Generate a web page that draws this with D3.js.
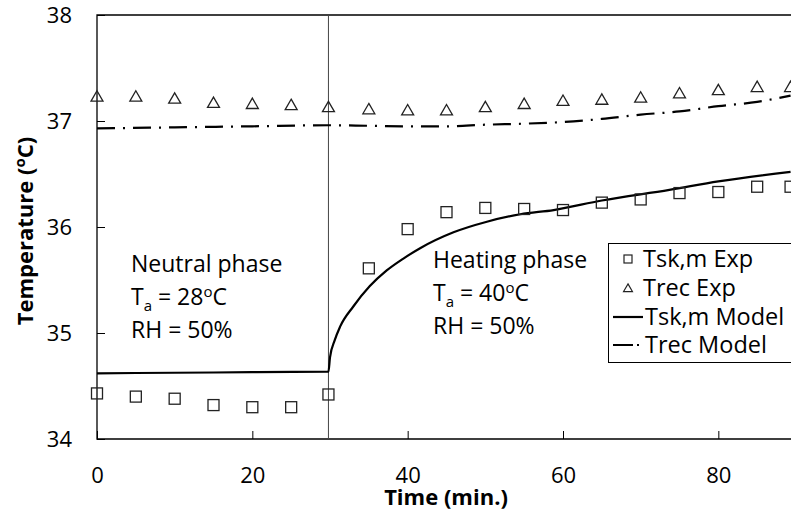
<!DOCTYPE html>
<html>
<head>
<meta charset="utf-8">
<script src="https://cdn.jsdelivr.net/npm/d3@7"></script>
<style>
  body { margin: 0; background: #fff; }
  text { font-family: "Open Sans", sans-serif; fill: #000; }
</style>
</head>
<body>
<div id="plot"></div>
<script>
// Width and height
const w = 791;
const h = 514;
const margin = {top: 15, right: -5, bottom: 75, left: 97};
const innerWidth = w - margin.left - margin.right;
const innerHeight = h - margin.top - margin.bottom;

// experimental points (time in min.)
const expTime = [0, 5, 10, 15, 20, 25, 29.8, 35, 40, 45, 50, 55, 60, 65, 70, 75, 80, 85, 89.3];
const tskExp = [34.43, 34.40, 34.38, 34.32, 34.30, 34.30, 34.42, 35.61, 35.98, 36.14, 36.18, 36.17,
  36.16, 36.23, 36.26, 36.32, 36.33, 36.38, 36.38];
const trecExp = [37.23, 37.23, 37.21, 37.17, 37.16, 37.15, 37.13, 37.11, 37.10, 37.10, 37.13, 37.16,
  37.19, 37.20, 37.22, 37.26, 37.29, 37.32, 37.32];

// model curves
const tskModelTime = [0, 10, 20, 29.8, 30, 30.6, 31.3, 33, 35.1, 37.3, 39.4, 41.6, 45.9, 50.2, 54.5,
  58.8, 65, 73.7, 80, 89.3];
const tskModel = [34.62, 34.625, 34.63, 34.635, 34.77, 34.93, 35.06, 35.25, 35.44, 35.59, 35.70, 35.80,
  35.95, 36.05, 36.12, 36.16, 36.25, 36.35, 36.43, 36.52];
const trecModelTime = [0, 10, 20, 29.8, 35, 40, 45, 50, 55, 60, 65, 70, 75, 80, 85, 89.3];
const trecModel = [36.93, 36.94, 36.95, 36.96, 36.955, 36.95, 36.95, 36.965, 36.975, 36.99, 37.02,
  37.06, 37.09, 37.14, 37.18, 37.24];

const phaseSwitch = 29.8;
const xTicks = [0, 20, 40, 60, 80];
const yTicks = [34, 35, 36, 37, 38];
const legendLabels = ["Tsk,m Exp", "Trec Exp", "Tsk,m Model", "Trec Model"];

// create SVG element
const svg = d3.select("div#plot")
  .append("svg")
    .attr("width", w)
    .attr("height", h);

const plot = svg.append("g")
  .attr("transform", `translate(${margin.left}, ${margin.top})`);

const xScale = d3.scaleLinear()
  .domain([0, 90])
  .range([0, innerWidth]);

const yScale = d3.scaleLinear()
  .domain([34, 38])
  .range([innerHeight, 0]);

// axes, ticks pointing inward
const xAxis = d3.axisBottom(xScale)
  .tickValues(xTicks)
  .tickFormat(d3.format("d"))
  .tickSize(-8)
  .tickPadding(28);

const yAxis = d3.axisLeft(yScale)
  .tickValues(yTicks)
  .tickFormat(d3.format("d"))
  .tickSize(-8)
  .tickPadding(25);

plot.append("g")
  .attr("transform", `translate(0, ${innerHeight})`)
  .call(xAxis)
  .call(g => g.select(".domain").remove())
  .call(g => g.selectAll("text").style("font-size", "22px").style("font-family", "Open Sans"));

plot.append("g")
  .call(yAxis)
  .call(g => g.select(".domain").remove())
  .call(g => g.selectAll("text").style("font-size", "22px").style("font-family", "Open Sans"));

// frame: left, top, bottom
plot.append("path")
  .attr("d", `M${innerWidth + 10},0H0V${innerHeight}H${innerWidth + 10}`)
  .attr("fill", "none")
  .attr("stroke", "#000")
  .attr("stroke-width", 1.3);

// phase divider
plot.append("line")
  .attr("x1", xScale(phaseSwitch))
  .attr("x2", xScale(phaseSwitch))
  .attr("y1", 0)
  .attr("y2", innerHeight)
  .attr("stroke", "#444")
  .attr("stroke-width", 1);

// model lines
const tskLine = d3.line()
  .x((d, i) => xScale(tskModelTime[i]))
  .y(d => yScale(d))
  .curve(d3.curveMonotoneX);

const trecLine = d3.line()
  .x((d, i) => xScale(trecModelTime[i]))
  .y(d => yScale(d))
  .curve(d3.curveMonotoneX);

const dashDot = "18,8,2,8";

plot.append("path")
  .datum(trecModel)
  .attr("d", trecLine)
  .attr("fill", "none")
  .attr("stroke", "#000")
  .attr("stroke-width", 2.2)
  .attr("stroke-dasharray", dashDot);

plot.append("path")
  .datum(tskModel)
  .attr("d", tskLine)
  .attr("fill", "none")
  .attr("stroke", "#000")
  .attr("stroke-width", 2.2);

// markers
const sq = 11;
plot.selectAll("rect.tsk")
  .data(tskExp)
  .enter()
  .append("rect")
    .attr("class", "tsk")
    .attr("x", (d, i) => xScale(expTime[i]) - sq / 2)
    .attr("y", d => yScale(d) - sq / 2)
    .attr("width", sq)
    .attr("height", sq)
    .attr("fill", "none")
    .attr("stroke", "#222")
    .attr("stroke-width", 1.3);

const triangle = d3.symbol().type(d3.symbolTriangle).size(62);
plot.selectAll("path.trec")
  .data(trecExp)
  .enter()
  .append("path")
    .attr("class", "trec")
    .attr("d", triangle)
    .attr("transform", (d, i) => `translate(${xScale(expTime[i])}, ${yScale(d) + 1})`)
    .attr("fill", "none")
    .attr("stroke", "#222")
    .attr("stroke-width", 1.3);

// phase annotations
function phaseText(x, y, name, temp) {
  const g = svg.append("g").style("font-size", "23px");
  g.append("text").attr("x", x).attr("y", y).text(name);
  const t = g.append("text").attr("x", x).attr("y", y + 33);
  t.append("tspan").text("T");
  t.append("tspan").attr("dy", 6).style("font-size", "15px").text("a");
  t.append("tspan").attr("dy", -6).text(" = " + temp);
  t.append("tspan").attr("dy", -8).style("font-size", "15px").text("o");
  t.append("tspan").attr("dy", 8).text("C");
  g.append("text").attr("x", x).attr("y", y + 66).text("RH = 50%");
}
phaseText(131, 272, "Neutral phase", "28");
phaseText(433, 268, "Heating phase", "40");

// legend
const legend = svg.append("g");
legend.append("rect")
  .attr("x", 608.5)
  .attr("y", 243.5)
  .attr("width", 200)
  .attr("height", 119)
  .attr("fill", "#fff")
  .attr("stroke", "#000")
  .attr("stroke-width", 1);

const legY = [259, 288, 317, 345];
legend.append("rect")
  .attr("x", 624).attr("y", legY[0] - 4).attr("width", 8).attr("height", 8)
  .attr("fill", "none").attr("stroke", "#222").attr("stroke-width", 1.2);
legend.append("path")
  .attr("d", d3.symbol().type(d3.symbolTriangle).size(34))
  .attr("transform", `translate(628, ${legY[1] + 1})`)
  .attr("fill", "none").attr("stroke", "#222").attr("stroke-width", 1.2);
legend.append("line")
  .attr("x1", 613).attr("x2", 643).attr("y1", legY[2]).attr("y2", legY[2])
  .attr("stroke", "#000").attr("stroke-width", 2.2);
legend.append("line")
  .attr("x1", 613).attr("x2", 643).attr("y1", legY[3]).attr("y2", legY[3])
  .attr("stroke", "#000").attr("stroke-width", 2.2)
  .attr("stroke-dasharray", "20,4,2,10");

legend.selectAll("text")
  .data(legendLabels)
  .enter()
  .append("text")
    .attr("x", (d, i) => i < 2 ? 643 : 645)
    .attr("y", (d, i) => legY[i])
    .attr("dy", "0.35em")
    .style("font-size", "23.5px")
    .text(d => d);

// axis titles
svg.append("text")
  .attr("x", 446)
  .attr("y", 505)
  .attr("text-anchor", "middle")
  .style("font-size", "22px")
  .style("font-weight", "bold")
  .text("Time (min.)");

const ylab = svg.append("text")
  .attr("transform", "translate(33, 231) rotate(-90)")
  .attr("text-anchor", "middle")
  .style("font-size", "22px")
  .style("font-weight", "bold");
ylab.append("tspan").text("Temperature (");
ylab.append("tspan").attr("dy", -8).style("font-size", "15px").text("o");
ylab.append("tspan").attr("dy", 8).text("C)");
</script>
</body>
</html>
